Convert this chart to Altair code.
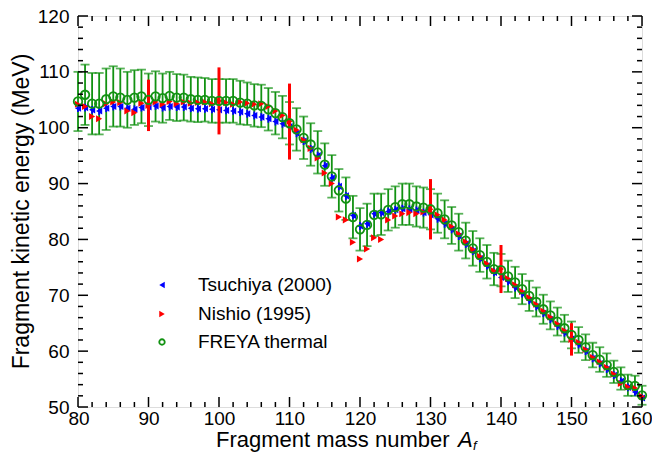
import altair as alt
import pandas as pd

# ---------------- data ----------------
A = list(range(80, 161))

freya = [104.7, 105.9, 104.3, 104.3, 105.1, 105.6, 105.4, 105.0, 105.4, 105.6,
         105.0, 105.6, 105.3, 105.7, 105.4, 105.4, 105.1, 105.0, 105.0, 104.8,
         104.8, 104.8, 104.8, 104.5, 104.3, 104.0, 103.9, 103.3, 102.6, 101.9,
         100.8, 99.7, 98.2, 97.0, 95.6, 93.4, 91.3, 88.8, 87.3, 84.0,
         81.8, 82.6, 84.4, 84.5, 85.3, 85.8, 86.3, 86.3, 85.9, 85.7,
         85.4, 84.7, 83.6, 82.5, 81.3, 79.8, 78.4, 77.2, 76.0, 74.7,
         74.5, 73.4, 72.3, 71.1, 69.9, 68.8, 67.5, 66.4, 65.3, 64.1,
         62.9, 62.0, 60.7, 59.3, 58.5, 57.5, 56.3, 55.1, 53.9, 53.8,
         52.1]

freya_err = [5.3, 5.4, 5.5, 5.5, 5.5, 5.4, 5.2, 5.0, 4.9, 4.8,
             4.7, 4.5, 4.4, 4.3, 4.2, 4.1, 4.0, 4.0, 3.9, 3.9,
             3.9, 3.9, 3.9, 3.9, 3.8, 3.8, 3.8, 3.8, 3.8, 3.8,
             3.8, 3.8, 3.8, 3.8, 3.8, 3.8, 3.8, 3.8, 3.8, 3.8,
             3.8, 3.8, 3.8, 3.7, 3.7, 3.7, 3.7, 3.7, 3.6, 3.6,
             3.6, 3.5, 3.4, 3.3, 3.3, 3.2, 3.1, 3.0, 3.0, 2.9,
             2.9, 2.8, 2.8, 2.7, 2.7, 2.6, 2.6, 2.5, 2.5, 2.4,
             2.4, 2.3, 2.3, 2.2, 2.2, 2.1, 2.0, 2.0, 1.9, 1.8,
             1.7]

tsuchiya = [103.5, 103.6, 103.2, 103.0, 103.5, 103.8, 103.8, 103.5, 103.3, 103.6,
            103.7, 103.9, 103.6, 103.8, 103.7, 103.7, 103.5, 103.4, 103.4, 103.3,
            103.2, 103.1, 103.0, 102.8, 102.5, 102.2, 101.9, 101.6, 101.1, 100.7,
            100.2, 99.0, 97.6, 96.2, 95.0, 93.2, 91.0, 89.5, 87.8, 84.3,
            82.4, 82.8, 84.6, 84.8, 85.0, 85.3, 85.5, 85.4, 85.2, 84.8,
            84.4, 83.7, 82.8, 81.8, 80.6, 79.2, 77.9, 76.6, 75.3, 74.1,
            73.2, 72.5, 71.4, 70.3, 69.1, 68.0, 66.8, 65.7, 64.5, 63.3,
            62.2, 61.2, 60.0, 58.7, 57.8, 56.8, 55.7, 54.6, 53.5, 52.7,
            51.6]

nishio = [104.2, 103.8, 102.0, 101.6, 104.3, 104.6, 104.5, 103.0, 102.7, 104.4,
          104.0, 104.6, 104.2, 104.7, 104.3, 104.6, 104.4, 104.5, 104.6, 104.3,
          104.8, 104.5, 104.2, 104.6, 104.4, 104.2, 104.3, 103.8, 103.0, 102.2,
          101.1, 99.6, 97.8, 96.3, 94.6, 91.9, 90.0, 84.0, 83.5, 79.5,
          76.5, 78.3, 80.3, 80.0, 83.5, 84.2, 84.6, 84.8, 84.6, 84.9,
          85.4, 84.4, 83.5, 82.3, 81.0, 79.6, 78.2, 77.0, 75.7, 74.4,
          74.7, 73.0, 71.9, 70.7, 69.6, 68.4, 67.2, 66.1, 64.9, 63.7,
          62.1, 61.6, 60.3, 58.9, 58.1, 57.1, 55.9, 54.2, 53.6, 53.4,
          51.9]

nishio_err_A = [90, 100, 110, 130, 140, 150]
nishio_err = [4.6, 6.0, 6.8, 5.4, 4.3, 2.9]

tsuchiya_err = 0.7

x_major = [80, 90, 100, 110, 120, 130, 140, 150, 160]
x_minor = [v for v in range(82, 160, 2) if v % 10 != 0]
y_major = [50, 60, 70, 80, 90, 100, 110, 120]
y_minor = [v for v in range(52, 120, 2) if v % 10 != 0]

legend_labels = ["Tsuchiya (2000)", "Nishio (1995)", "FREYA thermal"]

# ---------------- styling ----------------
W, H = 564, 391
GREEN = "#129212"
BLUE = "#0000ff"
RED = "#ff0000"
FONT = "Liberation Sans"
LABEL_SIZE = 19
XTITLE_SIZE = 22
YTITLE_SIZE = 23

df = pd.DataFrame({"A": A, "freya": freya, "ferr": freya_err,
                   "tsuchiya": tsuchiya, "nishio": nishio})
df["f_lo"] = df["freya"] - df["ferr"]
df["f_hi"] = df["freya"] + df["ferr"]
df["t_lo"] = df["tsuchiya"] - tsuchiya_err
df["t_hi"] = df["tsuchiya"] + tsuchiya_err

ne = pd.DataFrame({"A": nishio_err_A, "err": nishio_err})
ne = ne.merge(df[["A", "nishio"]], on="A")
ne["lo"] = ne["nishio"] - ne["err"]
ne["hi"] = ne["nishio"] + ne["err"]

xs = alt.Scale(domain=[80, 160], nice=False, zero=False)
ys = alt.Scale(domain=[50, 120], nice=False, zero=False)

AX = alt.Axis(values=x_major, ticks=False, tickSize=0, domain=False, grid=False,
              labelFontSize=LABEL_SIZE, labelFont=FONT, labelColor="black",
              labelPadding=2, labelFlush=True, labelFlushOffset=10,
              labelOverlap=False, format="d")
AY = alt.Axis(values=y_major, ticks=False, tickSize=0, domain=False, grid=False,
              labelFontSize=LABEL_SIZE, labelFont=FONT, labelColor="black",
              labelPadding=9, labelFlush=False, labelOverlap=False, format="d")


def X(f):
    return alt.X(f"{f}:Q", scale=xs, axis=AX, title=None)


def Y(f):
    return alt.Y(f"{f}:Q", scale=ys, axis=AY, title=None)


base = alt.Chart(df)

# inward ticks on all four sides
xmaj = pd.DataFrame({"v": x_major})
xmin = pd.DataFrame({"v": x_minor})
ymaj = pd.DataFrame({"v": y_major})
ymin = pd.DataFrame({"v": y_minor})


def xticks(d, L):
    b = alt.Chart(d).mark_rule(color="black", strokeWidth=1.5)
    return (b.encode(x=X("v"), y=alt.value(H), y2=alt.value(H - L)) +
            b.encode(x=X("v"), y=alt.value(0), y2=alt.value(L)))


def yticks(d, L):
    b = alt.Chart(d).mark_rule(color="black", strokeWidth=1.5)
    return (b.encode(y=Y("v"), x=alt.value(0), x2=alt.value(L)) +
            b.encode(y=Y("v"), x=alt.value(W), x2=alt.value(W - L)))


ticks = xticks(xmaj, 10) + xticks(xmin, 5) + yticks(ymaj, 10) + yticks(ymin, 5)

# FREYA error bars
f_bar = base.mark_rule(color=GREEN, strokeWidth=1.8).encode(x=X("A"), y=Y("f_lo"), y2="f_hi")
f_cap_lo = base.mark_tick(color=GREEN, orient="horizontal", size=9, thickness=1.8).encode(x=X("A"), y=Y("f_lo"))
f_cap_hi = base.mark_tick(color=GREEN, orient="horizontal", size=9, thickness=1.8).encode(x=X("A"), y=Y("f_hi"))

# Tsuchiya
t_bar = base.mark_rule(color=BLUE, strokeWidth=1.8).encode(x=X("A"), y=Y("t_lo"), y2="t_hi")
t_pts = base.mark_point(shape="triangle-left", filled=True, color=BLUE, size=50, opacity=1).encode(
    x=X("A"), y=Y("tsuchiya"))

# Nishio
n_bar = alt.Chart(ne).mark_rule(color=RED, strokeWidth=3).encode(x=X("A"), y=Y("lo"), y2="hi")
n_pts = base.mark_point(shape="triangle-right", filled=True, color=RED, size=50, opacity=1).encode(
    x=X("A"), y=Y("nishio"))

# FREYA points
f_pts = base.mark_point(shape="circle", filled=False, color=GREEN, size=72, strokeWidth=1.8,
                        opacity=1).encode(x=X("A"), y=Y("freya"))

# legend (manual)
LX, LT = 84, 120
LY = [269, 298, 326]
one = pd.DataFrame({"k": [0]})
leg = (
    alt.Chart(one).mark_point(shape="triangle-left", filled=True, color=BLUE,
                              size=40, opacity=1).encode(x=alt.value(LX), y=alt.value(LY[0]))
    + alt.Chart(one).mark_point(shape="triangle-right", filled=True, color=RED,
                                size=40, opacity=1).encode(x=alt.value(LX), y=alt.value(LY[1]))
    + alt.Chart(one).mark_point(shape="circle", filled=False, color=GREEN,
                                size=30, strokeWidth=1.8, opacity=1).encode(x=alt.value(LX), y=alt.value(LY[2]))
)
for lab, yy in zip(legend_labels, LY):
    leg += alt.Chart(pd.DataFrame({"t": [lab]})).mark_text(
        align="left", baseline="middle", fontSize=19, font=FONT, color="black"
    ).encode(x=alt.value(LT), y=alt.value(yy), text="t:N")

# axis titles
TX0 = 138  # start of "Fragment mass number"
TXA = 380  # start of italic A
title_y = H + 40
titles = (
    alt.Chart(pd.DataFrame({"t": ["Fragment mass number"]})).mark_text(
        align="left", baseline="alphabetic", fontSize=XTITLE_SIZE, font=FONT, color="black"
    ).encode(x=alt.value(TX0), y=alt.value(title_y), text="t:N")
    + alt.Chart(pd.DataFrame({"t": ["A"]})).mark_text(
        align="left", baseline="alphabetic", fontSize=XTITLE_SIZE, font=FONT, fontStyle="italic", color="black"
    ).encode(x=alt.value(TXA), y=alt.value(title_y), text="t:N")
    + alt.Chart(pd.DataFrame({"t": ["f"]})).mark_text(
        align="left", baseline="alphabetic", fontSize=13, font=FONT, fontStyle="italic", color="black"
    ).encode(x=alt.value(TXA + 15), y=alt.value(title_y + 3), text="t:N")
    + alt.Chart(pd.DataFrame({"t": ["Fragment kinetic energy (MeV)"]})).mark_text(
        align="center", baseline="middle", fontSize=YTITLE_SIZE, font=FONT, color="black", angle=270
    ).encode(x=alt.value(-56), y=alt.value(H / 2), text="t:N")
)

chart = alt.layer(
    f_bar, f_cap_lo, f_cap_hi, t_bar, t_pts, n_bar, n_pts, f_pts, ticks, leg, titles
).properties(
    width=W, height=H,
    autosize=alt.AutoSizeParams(type="none"),
    padding={"left": 70, "top": 8, "right": 10, "bottom": 45},
).configure_view(
    stroke="black", strokeWidth=2
).configure(background="white")

chart.save("out.html", embed_options={"renderer": "svg", "actions": False})
